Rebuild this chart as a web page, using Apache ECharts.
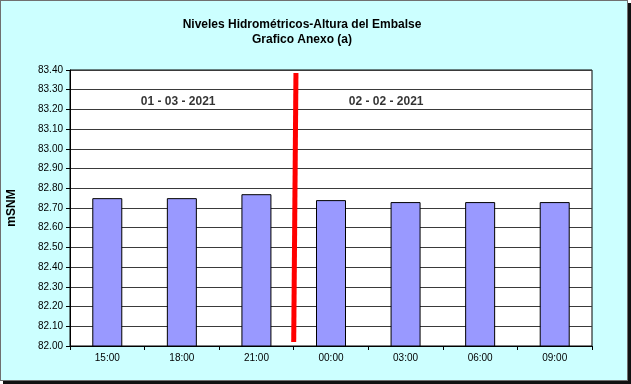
<!DOCTYPE html>
<html><head><meta charset="utf-8">
<script src="https://cdn.jsdelivr.net/npm/echarts@6/dist/echarts.min.js"></script>
<style>
html,body{margin:0;padding:0;background:#fff;}
#frame{position:absolute;left:0;top:0;width:626px;height:379px;border:1px solid #707070;box-shadow:3px 3px 0 #111;background:#CCFFFF;}
#c{width:626px;height:379px;}
</style></head>
<body><div id="frame"><div id="c"></div></div>
<script>
const categories = ['15:00','18:00','21:00','00:00','03:00','06:00','09:00'];
const levels = [82.75, 82.75, 82.77, 82.74, 82.73, 82.73, 82.73];
const yTicks = {min: 82.0, max: 83.4, interval: 0.1};
const dayLabels = [
  {name: '01 - 03 - 2021', value: [1.45, 83.24]},
  {name: '02 - 02 - 2021', value: [4.24, 83.24]}
];
const dayChange = [[3.0, 82.02], [3.03, 83.385]];

const chart = echarts.init(document.getElementById('c'));
const font = 'Liberation Sans, Arial, sans-serif';
chart.setOption({
  backgroundColor: 'transparent',
  animation: false,
  title: {
    text: 'Niveles Hidrométricos-Altura del Embalse\nGrafico Anexo (a)',
    left: 296, top: 11, textAlign: 'center',
    textStyle: {fontFamily: font, fontSize: 12, fontWeight: 'bold', color: '#000', lineHeight: 15}
  },
  grid: {left: 69, top: 69, width: 522, height: 276, outerBoundsMode: 'none', containLabel: false,
    show: true, borderColor: '#000', borderWidth: 1, backgroundColor: '#fff'},
  xAxis: [{
    type: 'category', data: categories,
    axisLine: {lineStyle: {color: '#000'}},
    axisTick: {show: true, length: 4, lineStyle: {color: '#000'}},
    axisLabel: {fontFamily: font, fontSize: 10, color: '#000', margin: 7}
  }, {
    type: 'value', min: 0, max: 7, show: false
  }],
  yAxis: {
    type: 'value', min: yTicks.min, max: yTicks.max, interval: yTicks.interval,
    name: 'mSNM', nameLocation: 'middle', nameRotate: 90, nameGap: 52,
    nameTextStyle: {fontFamily: font, fontSize: 12, fontWeight: 'bold', color: '#000'},
    axisLine: {show: true, lineStyle: {color: '#000'}},
    axisTick: {show: true, inside: false, length: 4, lineStyle: {color: '#000'}},
    axisLabel: {fontFamily: font, fontSize: 10, color: '#000', margin: 7, formatter: v => v.toFixed(2)},
    splitLine: {show: true, lineStyle: {color: '#3a3a3a', width: 1}}
  },
  series: [{
    type: 'bar', data: levels, barWidth: 30,
    itemStyle: {color: '#9999FF', borderColor: '#000', borderWidth: 1}
  }, {
    type: 'line', xAxisIndex: 1, data: dayChange, symbol: 'none',
    lineStyle: {color: '#FF0000', width: 5, cap: 'butt'}, z: 5
  }, {
    type: 'scatter', xAxisIndex: 1, data: dayLabels, symbolSize: 0,
    label: {show: true, position: 'inside', formatter: p => p.name,
      fontFamily: font, fontSize: 12, fontWeight: 'bold', color: '#000'}, z: 6
  }]
});
</script></body></html>
